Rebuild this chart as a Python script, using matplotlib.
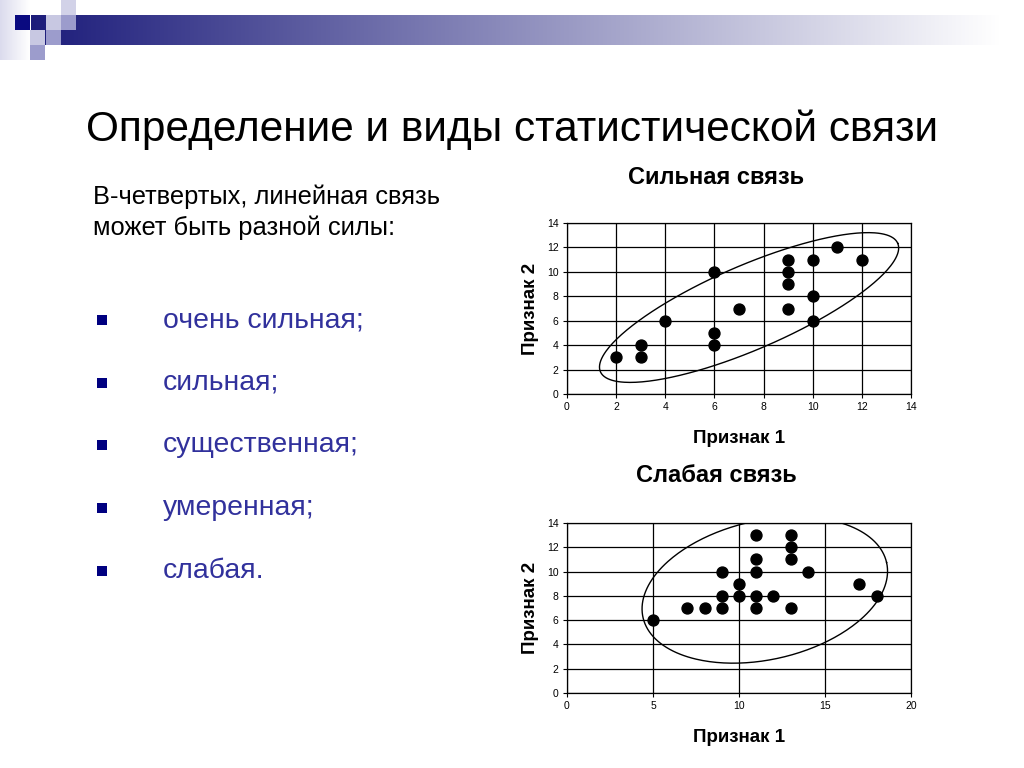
import numpy as np
import matplotlib.pyplot as plt
from matplotlib.patches import Rectangle

plt.rcParams['font.family'] = ['Liberation Sans', 'DejaVu Sans']

# slide text
title = 'Определение и виды статистической связи'
intro = 'В-четвертых, линейная связь\nможет быть разной силы:'
bullets = ['очень сильная;', 'сильная;', 'существенная;', 'умеренная;', 'слабая.']

# strong relation (x, y)
strong_x = [2, 3, 3, 4, 6, 6, 6, 7, 9, 9, 9, 9, 10, 10, 10, 11, 12]
strong_y = [3, 3, 4, 6, 4, 5, 10, 7, 7, 9, 10, 11, 6, 8, 11, 12, 11]

# weak relation (x, y)
weak_x = [5, 7, 8, 9, 9, 9, 10, 10, 11, 11, 11, 11, 11, 12, 13, 13, 13, 13, 14, 17, 18]
weak_y = [6, 7, 7, 7, 8, 10, 8, 9, 7, 8, 10, 11, 13, 8, 7, 11, 12, 13, 10, 9, 8]

# ellipses: center, semi-axis vectors (data units)
strong_ell = ((7.41, 7.08), (6.05, 5.26), (-0.68, 3.15))
weak_ell = ((11.5, 8.48), (7.08, 2.27), (-0.895, 5.58))

W, H = 1024, 768
fig = plt.figure(figsize=(W / 100, H / 100), dpi=100)

# background decorations in pixel coords
bg = fig.add_axes([0, 0, 1, 1])
bg.set_xlim(0, W)
bg.set_ylim(H, 0)
bg.axis('off')

grad = np.linspace(0, 1, 512)
navy = np.array([0.11, 0.11, 0.48])
cols = navy[None, :] * (1 - grad[:, None]) + np.ones(3)[None, :] * grad[:, None]
bg.imshow(cols[None, :, :], extent=(31, 1000, 45, 15), aspect='auto')
edge = np.linspace(0, 1, 64)
ecols = np.array([0.86, 0.86, 0.93])[None, :] * (1 - edge[:, None]) + edge[:, None]
bg.imshow(ecols[None, :, :], extent=(0, 30, 60, 0), aspect='auto')

squares = [
    (15, 15, '#0a0a80'),
    (46, 15, '#c8c8e2'),
    (61, 15, '#9c9ccc'),
    (61, 0, '#d2d2e8'),
    (30, 30, '#c8c8e2'),
    (46, 30, '#9c9ccc'),
    (30, 45, '#9c9ccc'),
]
for sx, sy, c in squares:
    bg.add_patch(Rectangle((sx, sy), 15, 15, color=c, lw=0))


def px(x, y):
    return x / W, 1 - y / H


fig.text(*px(512, 130), title, fontsize=30.5, ha='center', va='center')
fig.text(*px(93, 197), intro.split('\n')[0], fontsize=18.4, ha='left', va='center')
fig.text(*px(93, 228), intro.split('\n')[1], fontsize=18.4, ha='left', va='center')

for i, b in enumerate(bullets):
    y = 320 + i * 62.7
    bg.add_patch(Rectangle((97, y - 5), 10, 10, color='#000080', lw=0))
    fig.text(*px(163, y), b, fontsize=20.4, color='#31319c', ha='left', va='center')


def draw_scatter(rect, xs, ys, xmax, xstep, ell, name, title_y):
    ax = fig.add_axes(rect)
    ax.scatter(xs, ys, s=62, color='black', zorder=3)
    c, u, v = ell
    t = np.linspace(0, 2 * np.pi, 300)
    ax.plot(c[0] + u[0] * np.cos(t) + v[0] * np.sin(t),
            c[1] + u[1] * np.cos(t) + v[1] * np.sin(t),
            color='black', lw=1, zorder=2)
    ax.set_xlim(0, xmax)
    ax.set_ylim(0, 14)
    ax.set_xticks(np.arange(0, xmax + 1, xstep))
    ax.set_yticks(np.arange(0, 15, 2))
    ax.grid(True, color='black', lw=0.9)
    ax.tick_params(labelsize=7.5, length=3, width=0.8, colors='black', pad=3)
    for sp in ax.spines.values():
        sp.set_linewidth(0.9)
    ax.set_xlabel('Признак 1', fontsize=13.5, fontweight='bold', labelpad=13)
    ax.set_ylabel('Признак 2', fontsize=13.5, fontweight='bold', labelpad=6)
    ax.set_axisbelow(True)
    fig.text(*px(716, title_y), name, fontsize=17, fontweight='bold',
             ha='center', va='center')
    return ax


draw_scatter([567 / W, (H - 394) / H, 344 / W, 171 / H],
             strong_x, strong_y, 14, 2, strong_ell, 'Сильная связь', 177)
draw_scatter([567 / W, (H - 693) / H, 344 / W, 170 / H],
             weak_x, weak_y, 20, 5, weak_ell, 'Слабая связь', 475)

fig.savefig('out.png', dpi=100)
